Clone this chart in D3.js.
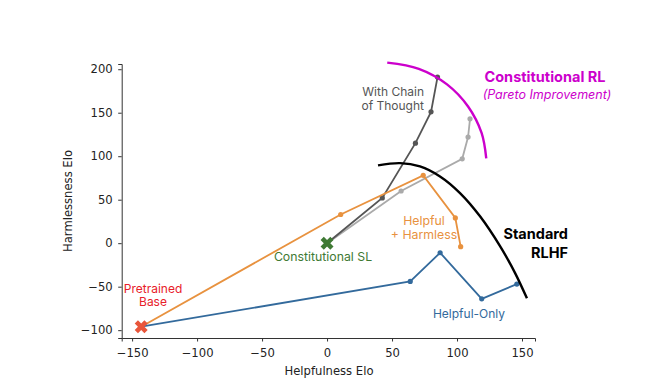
<!DOCTYPE html>
<html>
<head>
<meta charset="utf-8">
<script src="https://cdn.jsdelivr.net/npm/d3@7"></script>
<style>
  body { margin: 0; background: #fff; }
  svg { display: block; font-family: Inter, "DejaVu Sans", sans-serif; }
</style>
</head>
<body>
<svg id="chart" width="650" height="383"></svg>
<script>
// values (Elo)
var xTicks = [-150, -100, -50, 0, 50, 100, 150];
var yTicks = [-100, -50, 0, 50, 100, 150, 200];

var pretrained = [-143, -96];
var constSL = [0, 0];

var helpfulOnlyX = [-143, 64, 87, 119, 146];
var helpfulOnlyY = [-96, -44, -11, -64, -47];

var hhX = [-143, 10.5, 74, 98.7, 102.8];
var hhY = [-96, 33, 78, 29, -4];

var cotX = [0, 42.5, 68, 80, 85];
var cotY = [0, 52, 115, 151, 191];

var rlX = [0, 57, 104, 108.5, 110];
var rlY = [0, 60, 97, 122, 143];

// hand-drawn frontier curves
var rlhfX = [39.2, 56.2, 71.5, 86.9, 102.3, 117.7, 133.1, 144.6, 153.8];
var rlhfY = [89.4, 92.0, 88.2, 76.7, 57.6, 30.9, -3.4, -34.1, -63.4];
var paretoX = [46.3, 70.6, 92.3, 108.5, 118.9, 122.5];
var paretoY = [207.6, 200.5, 182.6, 157.2, 126.8, 97.6];

var svg = d3.select("#chart");
var x = d3.scaleLinear().domain([-158, 160]).range([121.7, 535]);
var y = d3.scaleLinear().domain([-109, 206]).range([338, 64]);

function zip(xs, ys) { return xs.map(function(v, i) { return [v, ys[i]]; }); }
var line = d3.line().x(function(d){ return x(d[0]); }).y(function(d){ return y(d[1]); });
var smooth = d3.line().curve(d3.curveCatmullRom).x(function(d){ return x(d[0]); }).y(function(d){ return y(d[1]); });

// axes
var axisFont = "'DejaVu Sans', sans-serif";
var fmt = function(d){ return d < 0 ? "\u2212" + Math.abs(d) : d; };
var gx = svg.append("g").attr("transform", "translate(0,338)")
  .call(d3.axisBottom(x).tickValues(xTicks).tickFormat(fmt).tickSizeOuter(0).tickSize(3.5).tickPadding(7));
var gy = svg.append("g").attr("transform", "translate(121.7,0)")
  .call(d3.axisLeft(y).tickValues(yTicks).tickFormat(fmt).tickSizeOuter(0).tickSize(3.5).tickPadding(5.5));
[gx, gy].forEach(function(g){
  g.selectAll("path").attr("stroke", "#333").attr("stroke-width", 1);
  g.selectAll("line").attr("stroke", "#333");
  g.selectAll("text").attr("font-size", 11.6).attr("fill", "#222").attr("font-family", axisFont);
});

svg.append("text").attr("x", 329).attr("y", 375).attr("text-anchor", "middle")
  .attr("font-family", axisFont).attr("font-size", 11.6).attr("fill", "#222").text("Helpfulness Elo");
svg.append("text").attr("transform", "translate(72,201) rotate(-90)").attr("text-anchor", "middle")
  .attr("font-family", axisFont).attr("font-size", 11.6).attr("fill", "#222").text("Harmlessness Elo");

// series
var series = [
  {xs: rlX, ys: rlY, color: "#aaaaaa"},
  {xs: cotX, ys: cotY, color: "#555555"},
  {xs: hhX, ys: hhY, color: "#e8923f"},
  {xs: helpfulOnlyX, ys: helpfulOnlyY, color: "#336a9c"}
];
series.forEach(function(s){
  var pts = zip(s.xs, s.ys);
  svg.append("path").attr("d", line(pts)).attr("fill", "none")
    .attr("stroke", s.color).attr("stroke-width", 1.8);
  svg.selectAll(null).data(pts.slice(1)).enter().append("circle")
    .attr("cx", function(d){ return x(d[0]); }).attr("cy", function(d){ return y(d[1]); })
    .attr("r", 2.6).attr("fill", s.color);
});

// frontiers
svg.append("path").attr("d", smooth(zip(rlhfX, rlhfY))).attr("fill", "none")
  .attr("stroke", "#000").attr("stroke-width", 2.4);
svg.append("path").attr("d", smooth(zip(paretoX, paretoY))).attr("fill", "none")
  .attr("stroke", "#cc00cc").attr("stroke-width", 2.4);

// X markers
var cross = d3.symbol().type(d3.symbolCross).size(105);
[[pretrained, "#e8553a"], [constSL, "#3f7a34"]].forEach(function(m){
  svg.append("path").attr("d", cross())
    .attr("transform", "translate(" + x(m[0][0]) + "," + y(m[0][1]) + ") rotate(45)")
    .attr("fill", m[1]);
});

// labels
function label(lines, px, py, color, opts) {
  opts = opts || {};
  var t = svg.append("text").attr("x", px).attr("y", py)
    .attr("text-anchor", opts.anchor || "middle").attr("fill", color)
    .attr("font-size", opts.size || 12).attr("font-weight", opts.weight || "normal")
    .attr("font-style", opts.style || "normal");
  lines.forEach(function(l, i){
    t.append("tspan").attr("x", px).attr("dy", i === 0 ? 0 : (opts.lh || 14)).text(l);
  });
}
label(["With Chain", "of Thought"], 424, 96, "#555", {anchor: "end"});
label(["Helpful", "+ Harmless"], 424, 224.5, "#e8923f", {size: 12.3});
label(["Constitutional SL"], 323, 261, "#3f7a34", {size: 12.3});
label(["Pretrained", "Base"], 153, 292.5, "#e8202a", {lh: 13.5});
label(["Helpful-Only"], 469, 317.5, "#336a9c");
label(["Standard", "RLHF"], 568, 238.5, "#000", {anchor: "end", size: 14.5, weight: "bold", lh: 19.5});
label(["Constitutional RL"], 545, 81.5, "#cc00cc", {size: 14.5, weight: "bold"});
label(["(Pareto Improvement)"], 547, 98.8, "#cc00cc", {size: 12.5, style: "italic"});
</script>
</body>
</html>
